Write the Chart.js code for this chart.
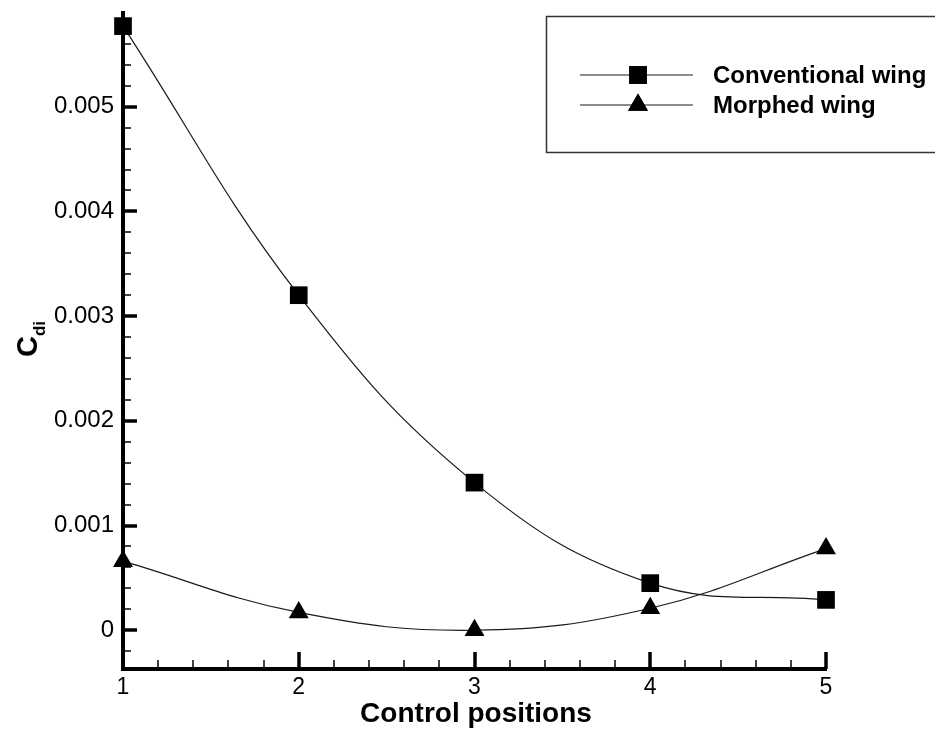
<!DOCTYPE html>
<html>
<head>
<meta charset="utf-8">
<script src="https://cdn.jsdelivr.net/npm/chart.js@4/dist/chart.umd.min.js"></script>
<style>
  html, body { margin: 0; padding: 0; background: #fff; }
  #wrap { width: 935px; height: 735px; }
</style>
</head>
<body>
<div id="wrap"><canvas id="chart-cdi" width="935" height="735"></canvas></div>
<script>
// ===== DADOS =====
const posicoes = [1, 2, 3, 4, 5];
const asaConvencional = [0.00577, 0.00320, 0.00141, 0.00045, 0.00029];
const asaMorfada = [0.00066, 0.00017, 0.00000, 0.00021, 0.00078];
const nomesSeries = ['Conventional wing', 'Morphed wing'];
const yTicks = [0, 0.001, 0.002, 0.003, 0.004, 0.005];
const xTicks = [1, 2, 3, 4, 5];

const FONTE = 'Liberation Sans, Arial, Helvetica, sans-serif';
const COR_LINHA = '#1a1a1a';

function pontos(ys) { return posicoes.map((x, i) => ({ x: x, y: ys[i] })); }

// ===== TICKS INTERNOS (major + minor) =====
const ticksPlugin = {
  id: 'ticksInternos',
  beforeDatasetsDraw(chart) {
    const ctx = chart.ctx;
    const sx = chart.scales.x, sy = chart.scales.y;
    const esq = chart.chartArea.left, base = chart.chartArea.bottom;
    ctx.save();
    ctx.strokeStyle = '#000';
    ctx.lineCap = 'butt';
    // eixo y
    for (let k = -1; k <= 29; k++) {
      const v = k * 0.0002;
      if (v < sy.min || v > sy.max) continue;
      const py = Math.round(sy.getPixelForValue(v));
      const major = k % 5 === 0;
      ctx.lineWidth = major ? 3.5 : 1.5;
      ctx.beginPath();
      ctx.moveTo(esq, py);
      ctx.lineTo(esq + (major ? 14 : 8), py);
      ctx.stroke();
    }
    // eixo x
    for (let k = 0; k <= 20; k++) {
      const v = 1 + k * 0.2;
      const px = Math.round(sx.getPixelForValue(v));
      const major = k % 5 === 0;
      ctx.lineWidth = major ? 3.5 : 1.5;
      ctx.beginPath();
      ctx.moveTo(px, base);
      ctx.lineTo(px, base - (major ? 17 : 9));
      ctx.stroke();
    }
    ctx.restore();
  }
};

// ===== TITULOS E LEGENDA =====
const textosPlugin = {
  id: 'textos',
  afterDraw(chart) {
    const ctx = chart.ctx;
    ctx.save();
    ctx.fillStyle = '#000';

    // titulo eixo x
    ctx.font = 'bold 28px ' + FONTE;
    ctx.textAlign = 'center';
    ctx.textBaseline = 'alphabetic';
    ctx.fillText('Control positions', 476, 722);

    // titulo eixo y: C com subscrito di
    ctx.save();
    ctx.translate(37, 357);
    ctx.rotate(-Math.PI / 2);
    ctx.textAlign = 'left';
    ctx.font = 'bold 29px ' + FONTE;
    ctx.fillText('C', 0, 0);
    const wC = ctx.measureText('C').width;
    ctx.font = 'bold 17px ' + FONTE;
    ctx.fillText('di', wC, 8);
    ctx.restore();

    // legenda
    ctx.strokeStyle = '#333';
    ctx.lineWidth = 1.5;
    ctx.strokeRect(546.5, 16.5, 420, 136);
    const linhasY = [75, 105];
    chart.data.datasets.forEach((ds, i) => {
      const y = linhasY[i];
      ctx.strokeStyle = COR_LINHA;
      ctx.lineWidth = 1.2;
      ctx.beginPath();
      ctx.moveTo(580, y);
      ctx.lineTo(693, y);
      ctx.stroke();
      Chart.helpers.drawPoint(ctx, {
        pointStyle: ds.pointStyle, radius: ds.pointRadius, rotation: 0, borderWidth: 0
      }, 638, y);
      ctx.fillStyle = '#000';
      ctx.fill();
      ctx.font = 'bold 24px ' + FONTE;
      ctx.textAlign = 'left';
      ctx.textBaseline = 'alphabetic';
      ctx.fillText(ds.label, 713, y + 8);
    });
    ctx.restore();
  }
};

// ===== GRAFICO =====
const chartCdi = new Chart(document.getElementById('chart-cdi'), {
  type: 'line',
  data: {
    datasets: [
      {
        label: nomesSeries[0], data: pontos(asaConvencional),
        borderColor: COR_LINHA, borderWidth: 1.2, tension: 0.4,
        pointStyle: 'rect', pointRadius: 12.5,
        pointBackgroundColor: '#000', pointBorderColor: '#000', pointBorderWidth: 0,
        clip: false
      },
      {
        label: nomesSeries[1], data: pontos(asaMorfada),
        borderColor: COR_LINHA, borderWidth: 1.2, tension: 0.4,
        pointStyle: 'triangle', pointRadius: 11.5,
        pointBackgroundColor: '#000', pointBorderColor: '#000', pointBorderWidth: 0,
        clip: false
      }
    ]
  },
  options: {
    responsive: false,
    animation: false,
    events: [],
    layout: { padding: { left: 0, right: 109, top: 10, bottom: 0 } },
    plugins: { legend: { display: false }, tooltip: { enabled: false } },
    scales: {
      x: {
        type: 'linear', min: 1, max: 5,
        grid: { display: false, drawTicks: false },
        border: { display: true, width: 4, color: '#000' },
        afterBuildTicks: s => { s.ticks = xTicks.map(v => ({ value: v })); },
        ticks: {
          padding: 7, color: '#000',
          font: { family: FONTE, size: 23, lineHeight: 1 },
          callback: v => String(v), maxRotation: 0
        },
        afterFit: s => { s.height = 66; s.paddingLeft = 0; s.paddingRight = 0; }
      },
      y: {
        type: 'linear', min: -0.00037, max: 0.0059,
        grid: { display: false, drawTicks: false },
        border: { display: true, width: 4, color: '#000' },
        afterBuildTicks: s => { s.ticks = yTicks.map(v => ({ value: v })); },
        ticks: {
          padding: 9, color: '#000',
          font: { family: FONTE, size: 24, lineHeight: 1 },
          callback: v => (v === 0 ? '0' : v.toFixed(3))
        },
        afterFit: s => { s.width = 123; s.paddingTop = 0; s.paddingBottom = 0; }
      }
    }
  },
  plugins: [ticksPlugin, textosPlugin]
});
</script>
</body>
</html>
